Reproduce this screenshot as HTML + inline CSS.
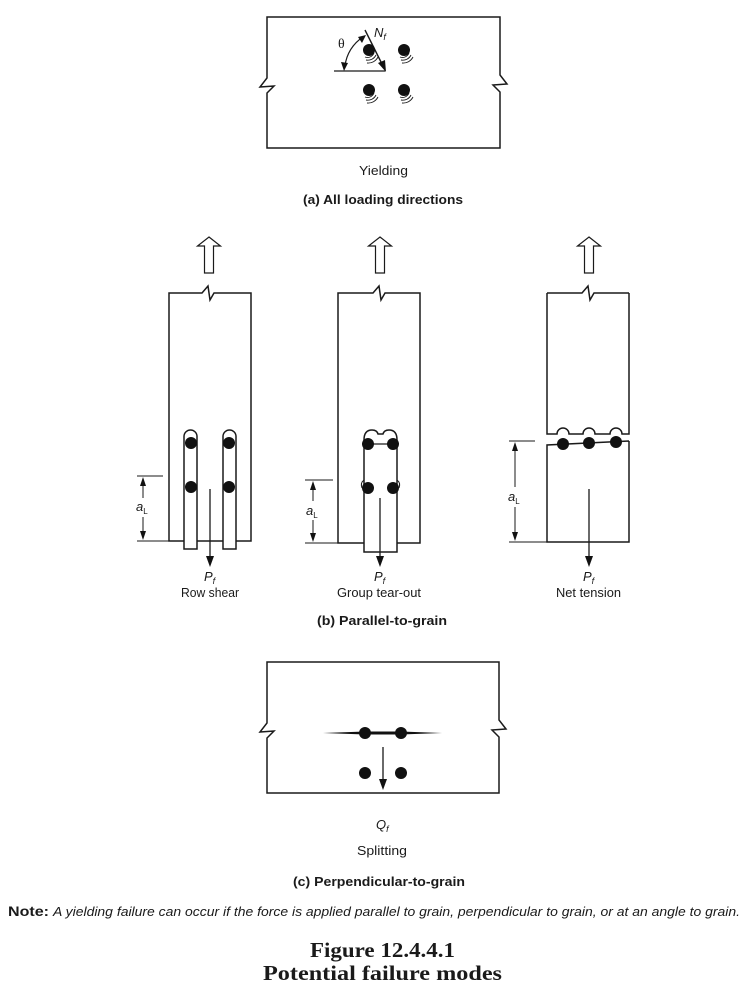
<!DOCTYPE html>
<html><head><meta charset="utf-8"><style>
html,body{margin:0;padding:0;background:#fff;}
svg{display:block;}
text{font-family:"Liberation Sans",sans-serif;fill:#1a1a1a;}
.it{font-style:italic;}
.b{font-weight:bold;}
</style></head><body>
<svg width="750" height="1005" viewBox="0 0 750 1005" xmlns="http://www.w3.org/2000/svg">
<g fill="none" stroke="#1a1a1a" stroke-width="1.5" stroke-linejoin="miter">
<path d="M267,17 H500 V75 L507,84 L493,85 L500,92 V148 H267 V93 L274,86 L260,87 L267,78 Z"/>
<path d="M334,71 H385" stroke-width="1.2"/>
<path d="M365,30 L383,66" stroke-width="1.4"/>
<path d="M345,66 A40,40 0 0 1 363,37" stroke-width="1.2"/>
<g stroke-width="0.9">
<path d="M374,53 A7,7 0 0 1 365,57"/><path d="M376,55 A9,9 0 0 1 366,60"/><path d="M378,57 A11,11 0 0 1 367,63"/>
<path d="M409,53 A7,7 0 0 1 400,57"/><path d="M411,55 A9,9 0 0 1 401,60"/><path d="M413,57 A11,11 0 0 1 402,63"/>
<path d="M374,93 A7,7 0 0 1 365,97"/><path d="M376,95 A9,9 0 0 1 366,100"/><path d="M378,97 A11,11 0 0 1 367,103"/>
<path d="M409,93 A7,7 0 0 1 400,97"/><path d="M411,95 A9,9 0 0 1 401,100"/><path d="M413,97 A11,11 0 0 1 402,103"/>
</g>

<path d="M209,237 L220.5,246 L213.5,246 L213.5,273 L204.5,273 L204.5,246 L197.5,246 Z" stroke-width="1.2"/>
<path d="M380,237 L391.5,246 L384.5,246 L384.5,273 L375.5,273 L375.5,246 L368.5,246 Z" stroke-width="1.2"/>
<path d="M589,237 L600.5,246 L593.5,246 L593.5,273 L584.5,273 L584.5,246 L577.5,246 Z" stroke-width="1.2"/>

<path d="M184,541 H169 V293 H202 L208,286 L210,300 L214,293 H251 V541 H236"/>
<path d="M197,541 H223"/>
<path d="M184,549 V436.5 A6.5,6.5 0 0 1 197,436.5 V549 Z"/>
<path d="M223,549 V436.5 A6.5,6.5 0 0 1 236,436.5 V549 Z"/>
<path d="M210,489 V557" stroke-width="1.3"/>
<g stroke-width="1">
<path d="M137,476 H163"/><path d="M137,541 H169"/>
<path d="M143,484 V498"/><path d="M143,517 V532"/>
</g>

<path d="M364,543 H338 V293 H373 L379,286 L381,300 L385,293 H420 V543 H397"/>
<path d="M364,552 V440 Q364,430 372,430 Q377,430 378,434 H383 Q384,430 389,430 Q397,430 397,440 V552 Z"/>
<path d="M368,444 H393" stroke-width="1.3"/>
<path d="M364,480 Q360,483 362,488" stroke-width="1"/>
<path d="M397,480 Q401,483 399,488" stroke-width="1"/>
<path d="M380,498 V557" stroke-width="1.3"/>
<g stroke-width="1">
<path d="M305,480 H333"/><path d="M305,543 H338"/>
<path d="M313,488 V501"/><path d="M313,520 V534"/>
</g>

<path d="M547,293 H582 L588,286 L590,300 L594,293 H629"/>
<path d="M547,293 V434 H557 A6,6 0 0 1 569,434 H583 A6,6 0 0 1 595,434 H610 A6,6 0 0 1 622,434 H629 V293"/>
<path d="M629,441 V542 H547 V445 L629,441"/>
<path d="M589,489 V557" stroke-width="1.3"/>
<g stroke-width="1">
<path d="M509,441 H535"/><path d="M509,542 H547"/>
<path d="M515,449 V487"/><path d="M515,507 V533"/>
</g>

<path d="M267,662 H499 V720 L506,729 L492,730 L499,737 V793 H267 V738 L274,731 L260,732 L267,723 Z"/>
<path d="M383,747 V781" stroke-width="1.3"/>
</g>

<g fill="#111" stroke="none">
<circle cx="369" cy="50" r="6"/><circle cx="404" cy="50" r="6"/>
<circle cx="369" cy="90" r="6"/><circle cx="404" cy="90" r="6"/>
<polygon points="386,72 378,63 385,60"/>
<polygon points="344,71 341,62 348,63"/>
<polygon points="366,35 358,37 362,43"/>
<circle cx="191" cy="443" r="6"/><circle cx="191" cy="487" r="6"/>
<circle cx="229" cy="443" r="6"/><circle cx="229" cy="487" r="6"/>
<polygon points="210,567 206,556 214,556"/>
<polygon points="143,477 140,486 146,486"/><polygon points="143,540 140,531 146,531"/>
<circle cx="368" cy="444" r="6"/><circle cx="393" cy="444" r="6"/>
<circle cx="368" cy="488" r="6"/><circle cx="393" cy="488" r="6"/>
<polygon points="380,567 376,556 384,556"/>
<polygon points="313,481 310,490 316,490"/><polygon points="313,542 310,533 316,533"/>
<circle cx="563" cy="444" r="6"/><circle cx="589" cy="443" r="6"/><circle cx="616" cy="442" r="6"/>
<polygon points="589,567 585,556 593,556"/>
<polygon points="515,442 512,451 518,451"/><polygon points="515,541 512,532 518,532"/>
<polygon points="323,733 365,731.5 401,731.5 442,733 401,734.5 365,734.5"/>
<circle cx="365" cy="733" r="6"/><circle cx="401" cy="733" r="6"/>
<circle cx="365" cy="773" r="6"/><circle cx="401" cy="773" r="6"/>
<polygon points="383,790 379,779 387,779"/>
</g>

<text x="338" y="48" font-size="14" style="font-family:'Liberation Serif',serif">θ</text>
<text x="374" y="37" class="it" font-size="13">N<tspan font-size="9" dy="3">f</tspan></text>
<text x="359" y="175" font-size="13" textLength="49" lengthAdjust="spacingAndGlyphs">Yielding</text>
<text x="303" y="204" class="b" font-size="13" textLength="160" lengthAdjust="spacingAndGlyphs">(a)  All loading directions</text>

<text x="136" y="511" class="it" font-size="13">a<tspan font-size="8" dy="3" font-style="normal">L</tspan></text>
<text x="306" y="515" class="it" font-size="13">a<tspan font-size="8" dy="3" font-style="normal">L</tspan></text>
<text x="508" y="501" class="it" font-size="13">a<tspan font-size="8" dy="3" font-style="normal">L</tspan></text>

<text x="204" y="581" class="it" font-size="13">P<tspan font-size="9" dy="3">f</tspan></text>
<text x="374" y="581" class="it" font-size="13">P<tspan font-size="9" dy="3">f</tspan></text>
<text x="583" y="581" class="it" font-size="13">P<tspan font-size="9" dy="3">f</tspan></text>
<text x="181" y="597" font-size="12.5" textLength="58" lengthAdjust="spacingAndGlyphs">Row shear</text>
<text x="337" y="597" font-size="12.5" textLength="84" lengthAdjust="spacingAndGlyphs">Group tear-out</text>
<text x="556" y="597" font-size="12.5" textLength="65" lengthAdjust="spacingAndGlyphs">Net tension</text>
<text x="317" y="625" class="b" font-size="13" textLength="130" lengthAdjust="spacingAndGlyphs">(b)  Parallel-to-grain</text>

<text x="376" y="829" class="it" font-size="13">Q<tspan font-size="9" dy="3">f</tspan></text>
<text x="357" y="855" font-size="12.5" textLength="50" lengthAdjust="spacingAndGlyphs">Splitting</text>
<text x="293" y="886" class="b" font-size="13" textLength="172" lengthAdjust="spacingAndGlyphs">(c)  Perpendicular-to-grain</text>

<text x="8" y="916" class="b" font-size="14" textLength="41" lengthAdjust="spacingAndGlyphs">Note:</text>
<text x="53" y="916" class="it" font-size="13" textLength="687" lengthAdjust="spacingAndGlyphs">A yielding failure can occur if the force is applied parallel to grain, perpendicular to grain, or at an angle to grain.</text>

<text x="310" y="957" font-size="21" font-weight="bold" style="font-family:'Liberation Serif',serif" textLength="145" lengthAdjust="spacingAndGlyphs">Figure 12.4.4.1</text>
<text x="263" y="980" font-size="21" font-weight="bold" style="font-family:'Liberation Serif',serif" textLength="239" lengthAdjust="spacingAndGlyphs">Potential failure modes</text>
</svg>
</body></html>
